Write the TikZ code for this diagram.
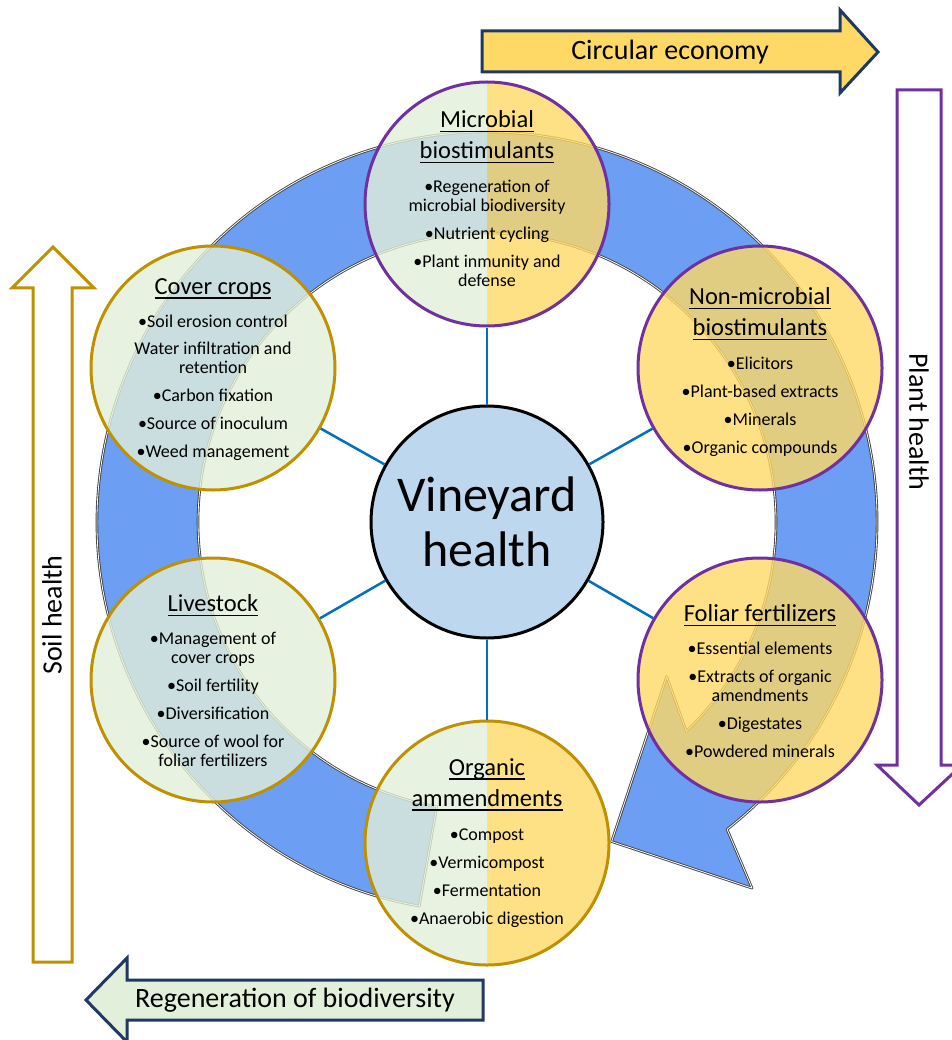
\documentclass[tikz,border=0pt]{standalone}
\usepackage{fontspec}
\setmainfont{Carlito}
\usetikzlibrary{positioning,calc}
\definecolor{ringblue}{RGB}{108,158,243}
\definecolor{leafgreen}{RGB}{226,239,218}
\definecolor{sunyellow}{RGB}{255,217,102}
\definecolor{goldline}{RGB}{191,144,0}
\definecolor{violetline}{RGB}{112,48,160}
\definecolor{navyline}{RGB}{31,56,100}
\definecolor{skyfill}{RGB}{189,215,238}
\definecolor{spokeblue}{RGB}{0,112,192}
\lineskiplimit=-100pt
\newcommand\myhead[1]{\leavevmode{\fontsize{24.5}{19}\selectfont\setbox0=\hbox{#1}\rlap{\rule[-5pt]{\wd0}{1.6pt}}\box0}}
\newcommand\myringpath{(100:390) arc[start angle=100, end angle=412, radius=390]
  -- (414.1:452) -- (428.7:343) -- (400.7:237) -- (406.4:289)
  arc[start angle=406.4, end angle=100, radius=289] -- cycle}
\begin{document}
\begin{tikzpicture}[x=1pt, y=-1pt, line join=round,
  bubble/.style={circle, minimum size=244pt, inner sep=0pt, line width=3pt},
  halves/.style 2 args={path picture={
    \fill[#1, fill opacity=0.8] (path picture bounding box.north west) rectangle (path picture bounding box.south);
    \fill[#2, fill opacity=0.8] (path picture bounding box.north) rectangle (path picture bounding box.south east);}},
  bubtext/.style={text width=236pt, align=flush center, inner sep=0pt, anchor=north,
    font=\fontsize{18}{19}\selectfont},
  spoke/.style={spokeblue, line width=2.5pt},
  blockarrow/.style={line width=3pt, line join=miter},
  armlabel/.style={font=\fontsize{28}{30}\selectfont, inner sep=0pt}]
\useasboundingbox (0,0) rectangle (951,1040);

% side arrows
\filldraw[blockarrow, draw=navyline, fill=sunyellow] (482,31) -- (840,31) -- (840,10) -- (878,52) -- (840,93) -- (840,72) -- (482,72) -- cycle;
\filldraw[blockarrow, draw=navyline, fill=leafgreen] (483,980) -- (127,980) -- (127,958) -- (86,1000) -- (127,1042) -- (127,1020) -- (483,1020) -- cycle;
\filldraw[blockarrow, draw=goldline, fill=white] (33,962) -- (33,288) -- (12,288) -- (53,247) -- (94,288) -- (72,288) -- (72,962) -- cycle;
\filldraw[blockarrow, draw=violetline, fill=white] (897,90) -- (941,90) -- (941,765) -- (962,765) -- (919,805) -- (877,765) -- (897,765) -- cycle;
\node[armlabel] (ce) at (670,52) {Circular economy};
\node[armlabel] (rb) at (295,1000) {Regeneration of biodiversity};
\node[armlabel, rotate=90] (sh) at (52,615) {Soil health};
\node[armlabel, rotate=-90] (ph) at (919,422) {Plant health};

% circular arrow
\begin{scope}[shift={(487,522)}]
\fill[ringblue] \myringpath;
\draw[black!75, line width=2.6pt] \myringpath;
\draw[white, line width=0.8pt] \myringpath;
\end{scope}

% circles
\node[bubble, draw=violetline, halves={leafgreen}{sunyellow}] (micro) at (487,204) {};
\node[bubble, draw=violetline, fill=sunyellow, fill opacity=0.8] (nonmicro) at (760,368) {};
\node[bubble, draw=violetline, fill=sunyellow, fill opacity=0.8] (foliar) at (760,680) {};
\node[bubble, draw=goldline, halves={leafgreen}{sunyellow}] (organic) at (487,843) {};
\node[bubble, draw=goldline, fill=leafgreen, fill opacity=0.8] (livestock) at (213,680) {};
\node[bubble, draw=goldline, fill=leafgreen, fill opacity=0.8] (cover) at (213,368) {};
\node[circle, minimum size=232pt, inner sep=0pt, draw=black, line width=3pt, fill=skyfill,
  align=center, font=\fontsize{50}{55}\selectfont] (vh) at (487,522) {Vineyard\\health};
\foreach \b in {micro,nonmicro,foliar,organic,livestock,cover}
  \draw[spoke] (vh) -- (\b);

% texts
\node[bubtext] (micro-t) at (487,110) {\myhead{Microbial}\\[8pt]\myhead{biostimulants}\\[15pt]
  •Regeneration of\\microbial biodiversity\\[9pt]•Nutrient cycling\\[9pt]•Plant inmunity and\\defense};
\node[bubtext] (nonmicro-t) at (760,287) {\myhead{Non-microbial}\\[8pt]\myhead{biostimulants}\\[15pt]
  •Elicitors\\[9pt]•Plant-based extracts\\[9pt]•Minerals\\[9pt]•Organic compounds};
\node[bubtext] (cover-t) at (213,278) {\myhead{Cover crops}\\[14pt]
  •Soil erosion control\\[8pt]Water infiltration and\\retention\\[9pt]•Carbon fixation\\[9pt]•Source of inoculum\\[9pt]•Weed management};
\node[bubtext] (foliar-t) at (760,604) {\myhead{Foliar fertilizers}\\[14pt]
  •Essential elements\\[9pt]•Extracts of organic\\amendments\\[9pt]•Digestates\\[9pt]•Powdered minerals};
\node[bubtext] (organic-t) at (487,758) {\myhead{Organic}\\[8pt]\myhead{ammendments}\\[15pt]
  •Compost\\[9pt]•Vermicompost\\[9pt]•Fermentation\\[9pt]•Anaerobic digestion};
\node[bubtext] (livestock-t) at (213,594) {\myhead{Livestock}\\[14pt]
  •Management of\\cover crops\\[9pt]•Soil fertility\\[9pt]•Diversification\\[9pt]•Source of wool for\\foliar fertilizers};
\end{tikzpicture}
\end{document}
